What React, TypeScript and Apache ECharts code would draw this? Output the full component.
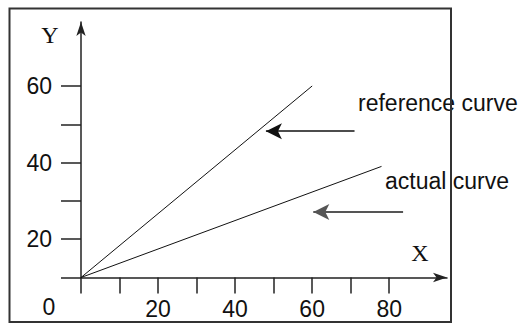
import React, { useEffect, useRef } from "react";
import * as echarts from "echarts";

const refCurveX = [0, 60];
const refCurveY = [10, 60];
const actCurveX = [0, 78];
const actCurveY = [10, 39];
const xTickValues = [0, 10, 20, 30, 40, 50, 60, 70, 80];
const xLabelValues = [20, 40, 60, 80];
const yTickValues = [10, 20, 30, 40, 50, 60];
const yLabelValues = [20, 40, 60];
const refArrow = [[71, 48.2], [48, 48.2]];
const actArrow = [[83.6, 27.1], [60.3, 27.1]];

export default function App() {
  const ref = useRef<HTMLDivElement>(null);
  useEffect(() => {
    const chart = echarts.init(ref.current!, null, { renderer: "svg" });
    const sans = "Liberation Sans, Arial, sans-serif";
    const serif = "Liberation Serif, Times New Roman, serif";
    const axisColor = "#222";
    chart.setOption({
      animation: false,
      backgroundColor: "#fff",
      grid: { left: 81, right: 74, top: 22, bottom: 46.5, containLabel: false },
      xAxis: {
        type: "value",
        min: 0,
        max: 95,
        splitLine: { show: false },
        axisLine: {
          onZero: false,
          lineStyle: { color: axisColor, width: 1.5 },
          symbol: ["none", "arrow"],
          symbolSize: [7, 14],
        },
        axisTick: {
          customValues: xTickValues,
          length: 16,
          lineStyle: { color: axisColor, width: 1.5 },
        },
        axisLabel: {
          customValues: xLabelValues,
          margin: 20,
          fontSize: 23,
          fontFamily: sans,
          color: "#111",
        },
      },
      yAxis: {
        type: "value",
        min: 10,
        max: 76.7,
        splitLine: { show: false },
        axisLine: {
          onZero: false,
          lineStyle: { color: axisColor, width: 1.5 },
          symbol: ["none", "arrow"],
          symbolSize: [7, 14],
        },
        axisTick: {
          customValues: yTickValues,
          length: 20,
          lineStyle: { color: axisColor, width: 1.5 },
        },
        axisLabel: {
          customValues: yLabelValues,
          margin: 29,
          fontSize: 23,
          fontFamily: sans,
          color: "#111",
        },
      },
      series: [
        {
          type: "line",
          name: "reference curve",
          data: refCurveX.map((x, i) => [x, refCurveY[i]]),
          symbol: "none",
          lineStyle: { color: "#111", width: 1 },
          markLine: {
            silent: true,
            symbol: ["none", "arrow"],
            symbolSize: [12, 16],
            label: { show: false },
            lineStyle: { color: "#111", width: 1.5, type: "solid" },
            data: [[{ coord: refArrow[0] }, { coord: refArrow[1] }]],
          },
        },
        {
          type: "line",
          name: "actual curve",
          data: actCurveX.map((x, i) => [x, actCurveY[i]]),
          symbol: "none",
          lineStyle: { color: "#111", width: 1 },
          markLine: {
            silent: true,
            symbol: ["none", "arrow"],
            symbolSize: [12, 16],
            label: { show: false },
            lineStyle: { color: "#555", width: 2, type: "solid" },
            data: [[{ coord: actArrow[0] }, { coord: actArrow[1] }]],
          },
        },
      ],
      graphic: [
        {
          type: "text",
          x: 358,
          y: 103,
          z: 10,
          style: { text: "reference curve", font: `23px ${sans}`, fill: "#111", verticalAlign: "middle" },
        },
        {
          type: "text",
          x: 385,
          y: 181,
          z: 10,
          style: { text: "actual curve", font: `23px ${sans}`, fill: "#111", verticalAlign: "middle" },
        },
        {
          type: "text",
          x: 49,
          y: 307,
          z: 10,
          style: { text: "0", font: `23px ${sans}`, fill: "#111", align: "center", verticalAlign: "middle" },
        },
        {
          type: "text",
          x: 50,
          y: 35,
          z: 10,
          style: { text: "Y", font: `24px ${serif}`, fill: "#111", align: "center", verticalAlign: "middle" },
        },
        {
          type: "text",
          x: 420,
          y: 253,
          z: 10,
          style: { text: "X", font: `24px ${serif}`, fill: "#111", align: "center", verticalAlign: "middle" },
        },
        {
          type: "rect",
          z: 20,
          shape: { x: 9.5, y: 8.5, width: 441.5, height: 313.5 },
          style: { fill: "none", stroke: "#333", lineWidth: 2 },
        },
      ],
    });
    return () => chart.dispose();
  }, []);
  return (
    <div
      ref={ref}
      style={{ position: "fixed", left: 0, top: 0, width: 521, height: 324 }}
    />
  );
}
